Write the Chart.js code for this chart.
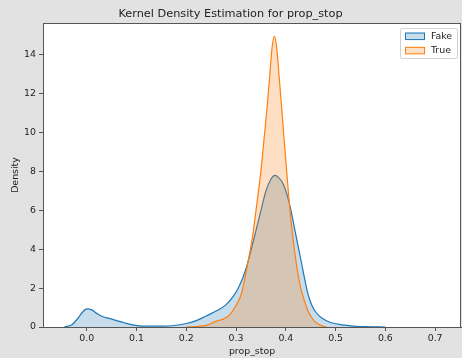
<!DOCTYPE html>
<html><head><meta charset="utf-8">
<script src="https://cdn.jsdelivr.net/npm/chart.js@4.4.1/dist/chart.umd.min.js"></script>
<style>html,body{margin:0;padding:0;background:#e2e2e2;overflow:hidden;}</style>
</head><body>
<canvas id="c" width="462" height="358"></canvas>
<script>
const chartTitle = 'Kernel Density Estimation for prop_stop';
const xTitle = 'prop_stop';
const yTitle = 'Density';
const seriesNames = ['Fake', 'True'];

const fakeX = [-0.045, -0.03, -0.02, -0.01, 0.0, 0.01, 0.02, 0.03, 0.045, 0.06, 0.075, 0.09, 0.105, 0.12, 0.15, 0.18, 0.2, 0.22, 0.24, 0.26, 0.28, 0.295, 0.306, 0.32, 0.335, 0.35, 0.36, 0.37, 0.378, 0.385, 0.395, 0.407, 0.42, 0.433, 0.438, 0.443, 0.448, 0.453, 0.458, 0.466, 0.478, 0.49, 0.513, 0.535, 0.56, 0.6];
const fakeY = [0, 0.12, 0.38, 0.72, 0.93, 0.88, 0.7, 0.55, 0.44, 0.33, 0.22, 0.12, 0.06, 0.04, 0.04, 0.09, 0.18, 0.33, 0.57, 0.82, 1.15, 1.6, 2.08, 3.0, 4.45, 6.0, 7.0, 7.6, 7.8, 7.7, 7.35, 6.37, 4.75, 3.1, 2.45, 1.85, 1.4, 1.08, 0.85, 0.6, 0.37, 0.23, 0.11, 0.05, 0.02, 0];

const trueX = [0.2, 0.22, 0.24, 0.26, 0.275, 0.286, 0.3, 0.31, 0.321, 0.333, 0.341, 0.35, 0.358, 0.363, 0.367, 0.372, 0.377, 0.382, 0.387, 0.391, 0.395, 0.403, 0.407, 0.414, 0.423, 0.43, 0.438, 0.445, 0.453, 0.46, 0.466, 0.475, 0.482];
const trueY = [0, 0.02, 0.08, 0.3, 0.42, 0.6, 1.12, 1.65, 2.94, 4.65, 6.2, 8.05, 10.15, 11.5, 12.73, 14.3, 14.95, 14.3, 12.73, 11.5, 10.15, 7.6, 6.37, 4.65, 2.94, 2.0, 1.3, 0.8, 0.45, 0.24, 0.14, 0.03, 0];

const xTicks = [0.0, 0.1, 0.2, 0.3, 0.4, 0.5, 0.6, 0.7];
const yTicks = [0, 2, 4, 6, 8, 10, 12, 14];

const FONT = 'DejaVu Sans';
const colors = ['#1f77b4', '#ff7f0e'];
const fills = ['rgba(31,119,180,0.25)', 'rgba(255,127,14,0.25)'];

function pts(xs, ys) { return xs.map((x, i) => ({x: x, y: ys[i]})); }

const bgPlugin = {
  id: 'bg',
  beforeDraw(chart) {
    const {ctx, chartArea: a} = chart;
    ctx.save();
    ctx.fillStyle = '#e2e2e2';
    ctx.fillRect(0, 0, chart.width, chart.height);
    ctx.fillStyle = '#ffffff';
    ctx.fillRect(a.left, a.top, a.right - a.left, a.bottom - a.top);
    ctx.restore();
  },
  afterDraw(chart) {
    const {ctx, chartArea: a} = chart;
    ctx.save();
    ctx.strokeStyle = '#555';
    ctx.lineWidth = 1;
    ctx.strokeRect(Math.round(a.left) + 0.5, Math.round(a.top) + 0.5, Math.round(a.right - a.left) - 1, Math.round(a.bottom - a.top));
    // legend
    const bx = a.right - 61, by = a.top + 5, bw = 57, bh = 30;
    ctx.fillStyle = 'rgba(255,255,255,0.85)';
    ctx.strokeStyle = '#d0d0d0';
    ctx.beginPath();
    if (ctx.roundRect) ctx.roundRect(bx + 0.5, by + 0.5, bw, bh, 2); else ctx.rect(bx + 0.5, by + 0.5, bw, bh);
    ctx.fill(); ctx.stroke();
    ctx.font = '9.4px "' + FONT + '"';
    ctx.textBaseline = 'middle';
    chart.data.datasets.forEach((ds, i) => {
      const cy = by + 8 + i * 14.3;
      ctx.fillStyle = ds.backgroundColor;
      ctx.fillRect(bx + 5, cy - 3.5, 20, 7);
      ctx.strokeStyle = ds.borderColor;
      ctx.lineWidth = 1;
      ctx.strokeRect(bx + 5.5, cy - 3, 19, 6.5);
      ctx.fillStyle = '#222';
      ctx.textAlign = 'left';
      ctx.fillText(ds.label, bx + 31, cy + 0.5);
    });
    ctx.restore();
  }
};

new Chart(document.getElementById('c'), {
  type: 'line',
  data: {
    datasets: [
      {label: seriesNames[0], data: pts(fakeX, fakeY), borderColor: colors[0], backgroundColor: fills[0], fill: 'origin', borderWidth: 1.2, pointRadius: 0, cubicInterpolationMode: 'monotone', order: 2},
      {label: seriesNames[1], data: pts(trueX, trueY), borderColor: colors[1], backgroundColor: fills[1], fill: 'origin', borderWidth: 1.2, pointRadius: 0, cubicInterpolationMode: 'monotone', order: 1}
    ]
  },
  options: {
    responsive: false,
    devicePixelRatio: 1,
    animation: false,
    layout: {padding: {left: 0, right: 1, top: 0, bottom: 0}},
    plugins: {
      legend: {display: false},
      tooltip: {enabled: false},
      title: {display: true, text: chartTitle, color: '#222', font: {family: FONT, size: 11.3, weight: 'normal'}, padding: {top: 7.5, bottom: 2}}
    },
    scales: {
      x: {
        type: 'linear', min: -0.088, max: 0.752,
        afterBuildTicks(s) { s.ticks = xTicks.map(v => ({value: v})); },
        afterFit(s) { s.height = 31; },
        ticks: {color: '#222', font: {family: FONT, size: 9.4}, padding: 2, maxRotation: 0, autoSkip: false, callback: v => v.toFixed(1)},
        grid: {drawOnChartArea: false, drawTicks: true, tickLength: 4, color: '#555'},
        border: {color: '#555', width: 1},
        title: {display: true, text: xTitle, color: '#222', font: {family: FONT, size: 9.4}, padding: {top: 0, bottom: 0.5}}
      },
      y: {
        type: 'linear', min: 0, max: 15.64,
        afterBuildTicks(s) { s.ticks = yTicks.map(v => ({value: v})); },
        afterFit(s) { s.width = 43; },
        ticks: {color: '#222', font: {family: FONT, size: 9.4}, padding: 3, autoSkip: false, callback: v => String(v)},
        grid: {drawOnChartArea: false, drawTicks: true, tickLength: 4, color: '#555'},
        border: {color: '#555', width: 1},
        title: {display: true, text: yTitle, color: '#222', font: {family: FONT, size: 9.4}, padding: {top: 9.5, bottom: 0}}
      }
    }
  },
  plugins: [bgPlugin]
});
</script>
</body></html>
